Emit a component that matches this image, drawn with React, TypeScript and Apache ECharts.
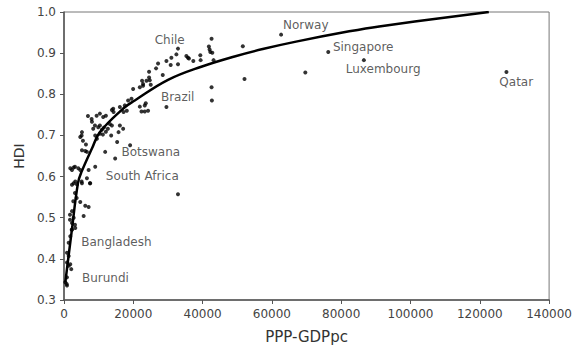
import React, { useEffect, useRef } from "react";
import * as echarts from "echarts";

// Country data points (PPP-GDP per capita, HDI)
const gdp = [
  374, 777, 863, 863, 863, 1813, 1353, 2101, 863, 1353, 1813, 1353, 2302, 3252, 2216, 1727, 1727, 2302, 2792, 3166,
  2302, 5670, 4691, 6130, 7109, 7483, 5094, 3252, 2792, 5180, 2302, 3741, 3166, 2677, 3655, 1813, 2302, 2792, 4691, 7109,
  9008, 6619, 5180, 6130, 6619, 11886, 14764, 15340, 19081, 5180, 4691, 5094, 9008, 9497, 13613, 15743, 13814, 6907, 7972, 9411,
  10361, 11311, 12088, 8058, 8922, 8433, 9871, 10361, 10936, 11512, 12088, 10361, 11224, 12663, 13239, 16117, 17066, 13814, 14304, 17182,
  18131, 14189, 16117, 17556, 18505, 19484, 21873, 23312, 23600, 22362, 23312, 24262, 19944, 21873, 22823, 23801, 22535, 22823, 24549, 24549,
  24751, 25039, 26564, 27140, 28492, 29557, 30795, 30996, 32435, 32895, 32895, 35313, 35774, 36061, 37328, 39342, 39429, 41817, 42019, 42220,
  42796, 42594, 43170, 42594, 42681, 51603, 52092, 62654, 69648, 76267, 86541, 127697, 29557, 32895, 7569, 3166, 4116, 5468, 6332,
];
const hdi = [
  0.343, 0.339, 0.355, 0.335, 0.391, 0.387, 0.383, 0.375, 0.415, 0.407, 0.455, 0.439, 0.471, 0.475, 0.471, 0.507, 0.495, 0.487, 0.5, 0.483,
  0.516, 0.504, 0.538, 0.529, 0.526, 0.584, 0.588, 0.588, 0.584, 0.584, 0.58, 0.581, 0.56, 0.54, 0.548, 0.62, 0.616, 0.622, 0.616, 0.616,
  0.624, 0.596, 0.664, 0.662, 0.66, 0.66, 0.644, 0.684, 0.676, 0.708, 0.696, 0.7, 0.7, 0.692, 0.7, 0.708, 0.724, 0.747, 0.74, 0.748,
  0.753, 0.745, 0.748, 0.733, 0.724, 0.716, 0.72, 0.724, 0.714, 0.719, 0.709, 0.704, 0.702, 0.716, 0.728, 0.724, 0.716, 0.762, 0.757, 0.757,
  0.76, 0.765, 0.769, 0.773, 0.785, 0.789, 0.77, 0.773, 0.778, 0.758, 0.758, 0.76, 0.813, 0.817, 0.821, 0.833, 0.833, 0.825, 0.855, 0.841,
  0.834, 0.823, 0.863, 0.875, 0.847, 0.881, 0.871, 0.889, 0.897, 0.873, 0.911, 0.893, 0.889, 0.887, 0.881, 0.895, 0.883, 0.916, 0.909, 0.903,
  0.901, 0.935, 0.883, 0.817, 0.785, 0.917, 0.837, 0.945, 0.853, 0.903, 0.883, 0.854, 0.769, 0.557, 0.584, 0.624, 0.62, 0.687, 0.678,
];

// Fitted trend curve
const curveX = [374, 2160, 4030, 5090, 8060, 10360, 17180, 20430, 30020, 39630, 49210, 57360, 66970, 82310, 90950, 122600];
const curveY = [0.343, 0.463, 0.584, 0.612, 0.668, 0.708, 0.766, 0.785, 0.835, 0.867, 0.892, 0.91, 0.928, 0.953, 0.965, 1.0];

// Country annotations (text centre in data units)
const labelNames = ["Chile", "Norway", "Singapore", "Luxembourg", "Qatar", "Brazil", "Botswana", "South Africa", "Bangladesh", "Burundi"];
const labelX = [30510, 69790, 86340, 92100, 130520, 32810, 25040, 22590, 15110, 11940];
const labelY = [0.931, 0.968, 0.916, 0.861, 0.83, 0.793, 0.659, 0.602, 0.442, 0.353];

const xTicks = { min: 0, max: 140000, interval: 20000 };
const yTicks = { min: 0.3, max: 1.0, interval: 0.1 };

const FONT = "DejaVu Sans";

export default function App() {
  const ref = useRef<HTMLDivElement>(null);
  useEffect(() => {
    document.body.style.margin = "0";
    if (!ref.current) return;
    const chart = echarts.init(ref.current, null, { renderer: "svg" });
    chart.setOption({
      animation: false,
      backgroundColor: "#ffffff",
      grid: {
        left: 64,
        right: 24,
        top: 12,
        bottom: 47,
        show: true,
        borderColor: "#777",
        borderWidth: 1,
      },
      xAxis: {
        type: "value",
        min: xTicks.min,
        max: xTicks.max,
        interval: xTicks.interval,
        name: "PPP-GDPpc",
        nameLocation: "middle",
        nameGap: 29,
        nameTextStyle: { fontFamily: FONT, fontSize: 15, color: "#333" },
        axisLine: { show: true, onZero: false, lineStyle: { color: "#555", width: 1.5 } },
        axisTick: { show: true, length: 4, lineStyle: { color: "#555" } },
        axisLabel: {
          fontFamily: FONT,
          fontSize: 12,
          color: "#444",
          margin: 8,
          formatter: (v: number) => String(v),
        },
        splitLine: { show: false },
      },
      yAxis: {
        type: "value",
        min: yTicks.min,
        max: yTicks.max,
        interval: yTicks.interval,
        name: "HDI",
        nameLocation: "middle",
        nameGap: 36,
        nameTextStyle: { fontFamily: FONT, fontSize: 14, color: "#333" },
        axisLine: { show: true, onZero: false, lineStyle: { color: "#555", width: 1.5 } },
        axisTick: { show: true, length: 4, lineStyle: { color: "#555" } },
        axisLabel: {
          fontFamily: FONT,
          fontSize: 12,
          color: "#444",
          margin: 8,
          formatter: (v: number) => v.toFixed(1),
        },
        splitLine: { show: false },
      },
      series: [
        {
          type: "scatter",
          data: gdp.map((g, i) => [g, hdi[i]]),
          symbol: "circle",
          symbolSize: 4,
          itemStyle: { color: "#000" },
          silent: true,
          z: 2,
        },
        {
          type: "line",
          data: curveX.map((x, i) => [x, curveY[i]]),
          smooth: 0.4,
          showSymbol: false,
          symbol: "none",
          lineStyle: { color: "#000", width: 2.5 },
          silent: true,
          z: 3,
        },
        {
          type: "scatter",
          data: labelNames.map((n, i) => ({ name: n, value: [labelX[i], labelY[i]] })),
          symbolSize: 0,
          silent: true,
          label: {
            show: true,
            position: "inside",
            formatter: (p: any) => p.name,
            fontFamily: FONT,
            fontSize: 12,
            color: "#333",
          },
          z: 4,
        },
      ],
    });
    return () => chart.dispose();
  }, []);
  return <div ref={ref} style={{ width: 575, height: 349 }} />;
}
